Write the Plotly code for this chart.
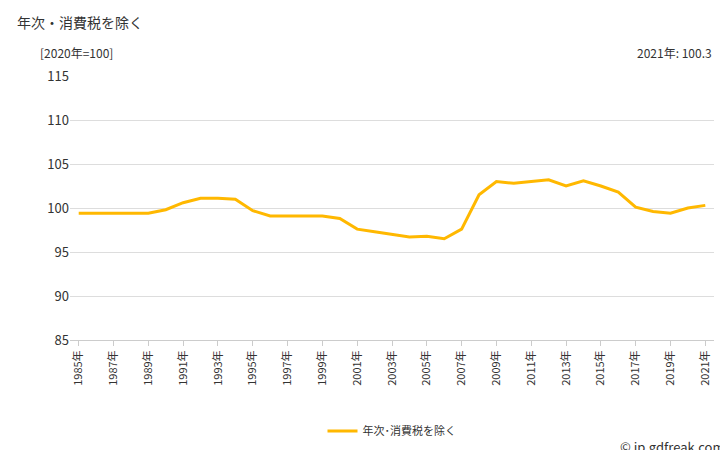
import plotly.graph_objects as go

years = list(range(1985, 2022))
values = [99.4, 99.4, 99.4, 99.4, 99.4, 99.8, 100.6, 101.1, 101.1, 101.0,
          99.7, 99.1, 99.1, 99.1, 99.1, 98.8, 97.6, 97.3, 97.0, 96.7,
          96.8, 96.5, 97.6, 101.5, 103.0, 102.8, 103.0, 103.2, 102.5, 103.1,
          102.5, 101.8, 100.1, 99.6, 99.4, 100.0, 100.3]
tick_years = list(range(1985, 2022, 2))
tick_labels = [f"{y}年" for y in tick_years]

font = "Noto Sans CJK JP"

fig = go.Figure()
fig.add_trace(go.Scatter(x=years, y=values, mode="lines", name="年次･消費税を除く",
                         line=dict(color="#FFB800", width=3)))

fig.update_layout(
    width=728, height=450,
    margin=dict(l=62, r=22, t=68, b=86),
    paper_bgcolor="white", plot_bgcolor="white",
    font=dict(family=font, size=13, color="#333"),
    showlegend=True,
    legend=dict(orientation="h", x=0.5, xanchor="center", y=-0.29, yanchor="top",
                font=dict(size=11)),
    xaxis=dict(range=[1984.5, 2021.5], tickvals=tick_years, ticktext=tick_labels,
               tickangle=-90, tickfont=dict(size=11), showgrid=False,
               ticks="outside", ticklen=5, tickcolor="#ccc",
               showline=True, linecolor="#ccc"),
    yaxis=dict(range=[85, 115], dtick=5, showgrid=True, gridcolor="#ddd",
               tickfont=dict(size=13), zeroline=False),
)
fig.add_annotation(text="年次・消費税を除く", xref="paper", yref="paper", x=-0.085, y=1.25,
                   xanchor="left", yanchor="top", showarrow=False, font=dict(size=14))
fig.add_annotation(text="[2020年=100]", xref="paper", yref="paper", x=-0.05, y=1.13,
                   xanchor="left", yanchor="top", showarrow=False, font=dict(size=12))
fig.add_annotation(text="2021年: 100.3", xref="paper", yref="paper", x=1.0, y=1.13,
                   xanchor="right", yanchor="top", showarrow=False, font=dict(size=12))
fig.add_annotation(text="© jp.gdfreak.com", xref="paper", yref="paper", x=1.02, y=-0.36,
                   xanchor="right", yanchor="top", showarrow=False, font=dict(size=13))

fig.write_html("out.html")
